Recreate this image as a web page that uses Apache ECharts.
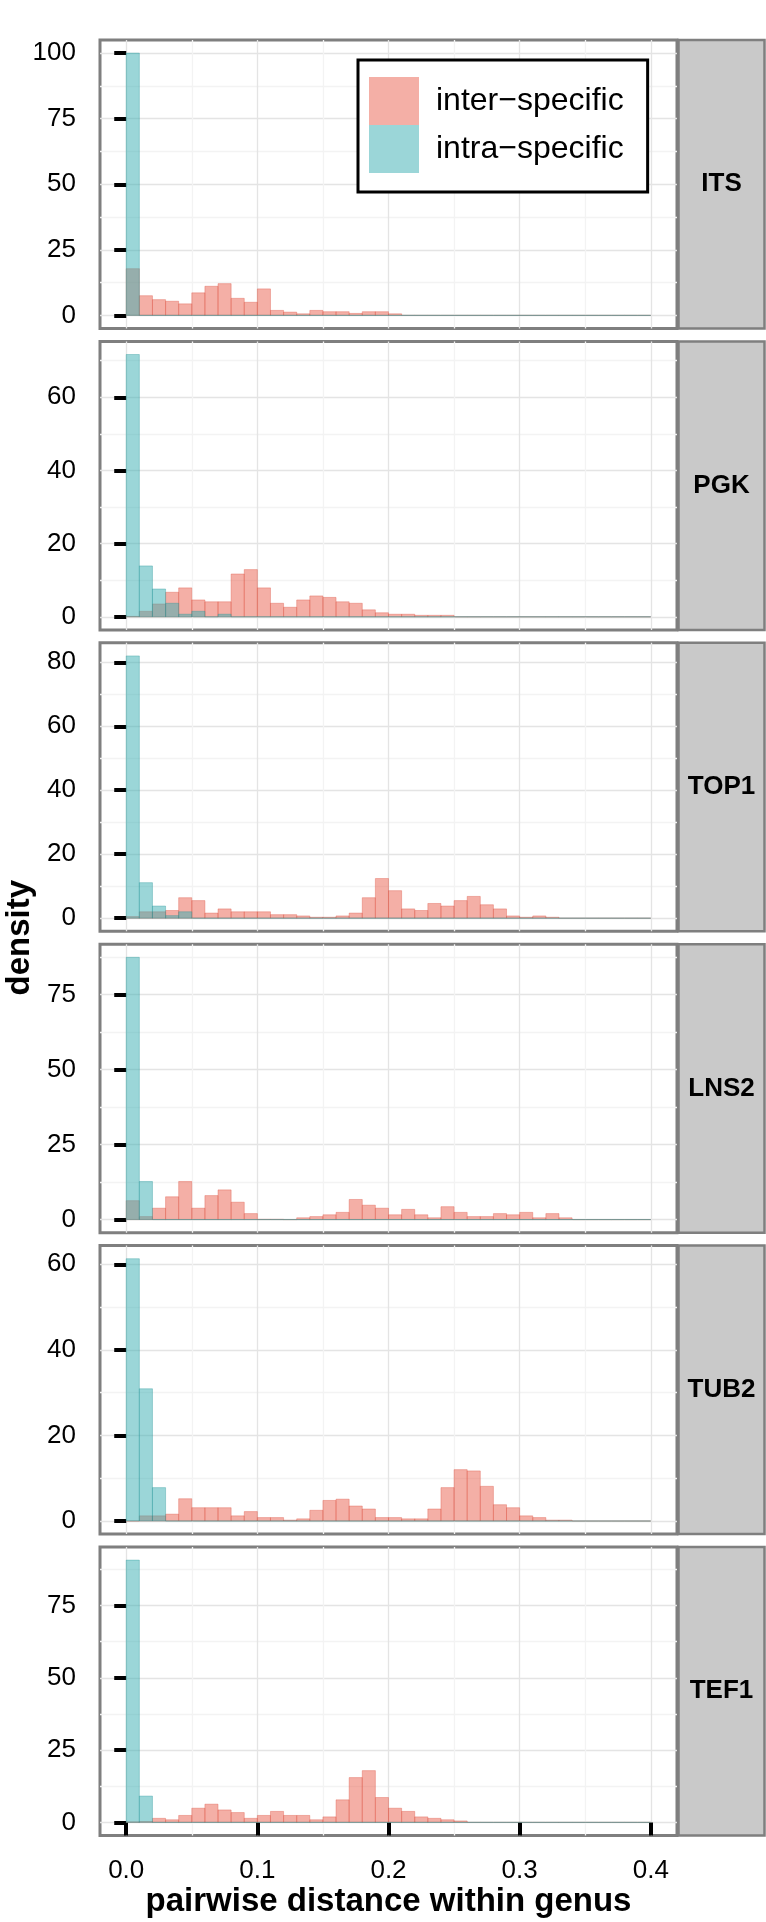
<!DOCTYPE html>
<html><head><meta charset="utf-8">
<script src="https://cdn.jsdelivr.net/npm/echarts@6/dist/echarts.min.js"></script>
<style>html,body{margin:0;padding:0;background:#fff}#c{width:766px;height:1922px}</style>
</head><body><div id="c"></div>
<script>
// ---------- data ----------
const panelNames = ['ITS', 'PGK', 'TOP1', 'LNS2', 'TUB2', 'TEF1'];
const seriesNames = ['inter\u2212specific', 'intra\u2212specific'];
const binStarts = [0.00,0.01,0.02,0.03,0.04,0.05,0.06,0.07,0.08,0.09,
                   0.10,0.11,0.12,0.13,0.14,0.15,0.16,0.17,0.18,0.19,
                   0.20,0.21,0.22,0.23,0.24,0.25,0.26,0.27,0.28,0.29,
                   0.30,0.31,0.32,0.33,0.34,0.35,0.36,0.37,0.38,0.39];
const binWidth = 0.01;
const xTicks = [0.0, 0.1, 0.2, 0.3, 0.4];
const xMinorTicks = [0.05, 0.15, 0.25, 0.35];

const itsInter  = [17.8,7.5,6.0,5.4,4.4,8.6,11.1,12.1,6.5,5.0,10.1,1.9,1.25,0.6,1.9,1.4,1.4,0.75,1.4,1.4,0.6,0,0,0,0,0,0,0,0,0,0,0,0,0,0,0,0,0,0,0];
const itsIntra  = [100,0,0,0,0,0,0,0,0,0,0,0,0,0,0,0,0,0,0,0,0,0,0,0,0,0,0,0,0,0,0,0,0,0,0,0,0,0,0,0];
const pgkInter  = [0.1,1.5,3.5,6.7,7.9,4.6,4.1,4.1,11.7,12.9,7.9,3.7,2.6,4.6,5.7,5.3,4.1,3.7,1.9,1.1,0.7,0.7,0.4,0.4,0.4,0,0,0,0,0,0,0,0,0,0,0,0,0,0,0];
const pgkIntra  = [71.7,13.9,7.6,3.7,0.7,1.5,0,0.7,0,0,0,0,0,0,0,0,0,0,0,0,0,0,0,0,0,0,0,0,0,0,0,0,0,0,0,0,0,0,0,0];
const top1Inter = [0.5,2.0,2.0,2.4,6.4,5.5,1.6,2.9,2.0,2.0,2.0,1.1,1.1,0.7,0.3,0.3,0.7,1.6,6.4,12.4,8.6,2.9,2.4,4.6,3.8,5.5,6.8,4.2,2.9,0.7,0.3,0.7,0.3,0,0,0,0,0,0,0];
const top1Intra = [82.0,11.1,3.8,0.8,2.0,0,0,0,0,0,0,0,0,0,0,0,0,0,0,0,0,0,0,0,0,0,0,0,0,0,0,0,0,0,0,0,0,0,0,0];
const lns2Inter = [6.3,1.0,3.8,7.6,12.7,3.8,8.0,9.9,5.8,2.0,0.1,0.1,0,0.6,1.0,1.6,2.4,6.7,4.8,3.8,1.6,3.4,1.6,0.6,4.3,2.4,1.0,1.0,2.0,1.6,2.4,0.6,2.0,0.6,0,0,0,0,0,0];
const lns2Intra = [87.4,12.7,0,0,0,0,0,0,0,0,0,0,0,0,0,0,0,0,0,0,0,0,0,0,0,0,0,0,0,0,0,0,0,0,0,0,0,0,0,0];
const tub2Inter = [0,1.2,1.2,1.6,5.2,3.1,3.1,3.1,1.2,2.2,0.8,0.8,0.2,0.5,2.5,4.8,5.1,3.5,2.8,0.8,0.8,0.5,0.5,2.8,7.8,12.0,11.7,8.1,3.8,3.1,1.2,0.8,0.2,0.2,0,0,0,0,0,0];
const tub2Intra = [61.3,30.9,7.8,0,0,0,0,0,0,0,0,0,0,0,0,0,0,0,0,0,0,0,0,0,0,0,0,0,0,0,0,0,0,0,0,0,0,0,0,0];
const tef1Inter = [0.2,0.3,1.4,0.9,2.4,4.9,6.3,4.3,3.4,1.4,2.4,3.8,2.4,2.4,0.9,1.9,7.8,15.5,17.9,8.6,4.9,3.8,1.9,1.4,0.9,0.5,0,0,0,0,0,0,0,0,0,0,0,0,0,0];
const tef1Intra = [90.7,9.1,0,0,0,0,0,0,0,0,0,0,0,0,0,0,0,0,0,0,0,0,0,0,0,0,0,0,0,0,0,0,0,0,0,0,0,0,0,0];

const itsTicks  = [0, 25, 50, 75, 100];
const pgkTicks  = [0, 20, 40, 60];
const top1Ticks = [0, 20, 40, 60, 80];
const lns2Ticks = [0, 25, 50, 75];
const tub2Ticks = [0, 20, 40, 60];
const tef1Ticks = [0, 25, 50, 75];

const panelInter = [itsInter, pgkInter, top1Inter, lns2Inter, tub2Inter, tef1Inter];
const panelIntra = [itsIntra, pgkIntra, top1Intra, lns2Intra, tub2Intra, tef1Intra];
const panelTicks = [itsTicks, pgkTicks, top1Ticks, lns2Ticks, tub2Ticks, tef1Ticks];

// ---------- style / layout ----------
const FONT = '"Liberation Sans", Arial, Helvetica, sans-serif';
const INTER_FILL = 'rgba(233,95,77,0.5)';
const INTRA_FILL = 'rgba(55,173,177,0.5)';
const INTER_STROKE = 'rgba(220,80,65,0.45)';
const INTRA_STROKE = 'rgba(40,150,155,0.45)';
const GRID_LEFT = 100, GRID_W = 577, TOP0 = 40, STEP = 301.4, PANEL_H = 288.5;
const STRIP_X = 678.5, STRIP_W = 86;

function binData(vals) { return binStarts.map((b, k) => [b, b + binWidth, vals[k]]); }
function makeRender(stroke) {
  return function (params, api) {
    const p0 = api.coord([api.value(0), api.value(2)]);
    const p1 = api.coord([api.value(1), 0]);
    return { type: 'rect',
      shape: { x: p0[0], y: p0[1], width: p1[0] - p0[0], height: p1[1] - p0[1] },
      style: { fill: api.visual('color'), stroke: stroke, lineWidth: 0.8 } };
  };
}

const grids = [], xAxes = [], yAxes = [], series = [], graphics = [];
panelNames.forEach((name, i) => {
  const top = TOP0 + i * STEP;
  const last = i === panelNames.length - 1;
  const inter = panelInter[i], intra = panelIntra[i], ticks = panelTicks[i];
  const M = Math.max(...inter, ...intra);
  const ymin = -0.05 * M, ymax = 1.05 * M;
  const tstep = ticks[1] - ticks[0];
  const yMinor = ticks.map(t => t + tstep / 2);

  grids.push({ left: GRID_LEFT, top: top, width: GRID_W, height: PANEL_H, show: true,
    borderColor: '#7f7f7f', borderWidth: 3, backgroundColor: '#fff', outerBoundsMode: 'none' });

  xAxes.push({ type: 'value', gridIndex: i, min: -0.02, max: 0.42, position: 'bottom',
    axisLine: { show: false },
    axisTick: { show: last, customValues: xTicks, length: 13, lineStyle: { color: '#000', width: 4 } },
    axisLabel: { show: last, customValues: xTicks, margin: 22, formatter: v => v.toFixed(1),
      fontSize: 26, color: '#000', fontFamily: FONT },
    splitLine: { show: true, lineStyle: { color: '#e4e4e4', width: 1.3 } },
    name: last ? 'pairwise distance within genus' : '', nameLocation: 'middle', nameGap: 50,
    nameTextStyle: { fontSize: 33, fontWeight: 'bold', color: '#000', fontFamily: FONT } });
  xAxes.push({ type: 'value', gridIndex: i, min: -0.02, max: 0.42, position: 'top',
    axisLine: { show: false }, axisTick: { show: false, customValues: xMinorTicks },
    axisLabel: { show: false, customValues: xMinorTicks },
    splitLine: { show: true, lineStyle: { color: '#f3f3f3', width: 1.3 } } });

  yAxes.push({ type: 'value', gridIndex: i, min: ymin, max: ymax, position: 'left',
    axisLine: { show: false },
    axisTick: { show: true, customValues: ticks, length: 12, lineStyle: { color: '#000', width: 4 } },
    axisLabel: { show: true, customValues: ticks, margin: 24, fontSize: 26, color: '#000', fontFamily: FONT },
    splitLine: { show: true, lineStyle: { color: '#e4e4e4', width: 1.3 } } });
  yAxes.push({ type: 'value', gridIndex: i, min: ymin, max: ymax, position: 'right',
    axisLine: { show: false }, axisTick: { show: false, customValues: yMinor },
    axisLabel: { show: false, customValues: yMinor },
    splitLine: { show: true, lineStyle: { color: '#f3f3f3', width: 1.3 } } });

  series.push({ type: 'custom', name: seriesNames[0], xAxisIndex: 2 * i, yAxisIndex: 2 * i,
    data: binData(inter), encode: { x: [0, 1], y: 2 }, itemStyle: { color: INTER_FILL },
    renderItem: makeRender(INTER_STROKE), silent: true });
  series.push({ type: 'custom', name: seriesNames[1], xAxisIndex: 2 * i, yAxisIndex: 2 * i,
    data: binData(intra), encode: { x: [0, 1], y: 2 }, itemStyle: { color: INTRA_FILL },
    renderItem: makeRender(INTRA_STROKE), silent: true });

  graphics.push({ type: 'rect', silent: true, z: 10,
    shape: { x: STRIP_X, y: top, width: STRIP_W, height: PANEL_H },
    style: { fill: '#c9c9c9', stroke: '#7f7f7f', lineWidth: 2.5 } });
  graphics.push({ type: 'text', silent: true, z: 11, x: STRIP_X + STRIP_W / 2, y: top + PANEL_H / 2,
    style: { text: name, fontSize: 26, fontWeight: 'bold', fontFamily: FONT, fill: '#000',
      align: 'center', verticalAlign: 'middle' } });
});

const panelsMid = TOP0 + ((panelNames.length - 1) * STEP + PANEL_H) / 2;
graphics.push({ type: 'text', silent: true, x: 20, y: panelsMid, rotation: Math.PI / 2,
  style: { text: 'density', fontSize: 33, fontWeight: 'bold', fontFamily: FONT, fill: '#000',
    align: 'center', verticalAlign: 'middle' } });

const chart = echarts.init(document.getElementById('c'), null, { renderer: 'canvas' });
chart.setOption({
  backgroundColor: '#fff',
  animation: false,
  grid: grids, xAxis: xAxes, yAxis: yAxes, series: series,
  legend: { data: seriesNames, orient: 'vertical', left: 358, top: 60,
    itemWidth: 50, itemHeight: 48, itemGap: 0, icon: 'rect', selectedMode: false,
    borderColor: '#000', borderWidth: 3, backgroundColor: '#fff', padding: [17, 24, 19, 11],
    itemStyle: { borderWidth: 0 },
    textStyle: { fontSize: 32, fontFamily: FONT, color: '#000', padding: [0, 0, 0, 12] } },
  graphic: graphics
});
</script></body></html>
